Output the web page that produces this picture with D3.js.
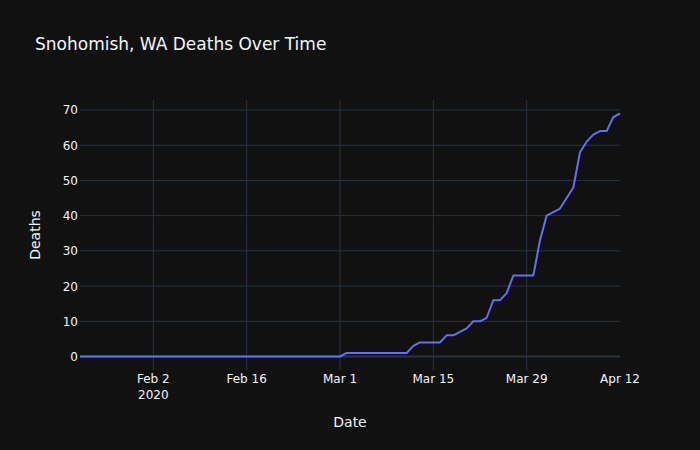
<!DOCTYPE html>
<html>
<head>
<meta charset="utf-8">
<script src="https://cdn.jsdelivr.net/npm/d3@7"></script>
<style>
  body { margin: 0; background: #111111; }
  text { font-family: Verdana, "DejaVu Sans", sans-serif; fill: #f2f5fa; }
</style>
</head>
<body>
<script>
// daily cumulative deaths, Jan 22 .. Apr 12 2020
var startDate = "2020-01-22";
var deaths = [
  // Jan 22 - Jan 31
  0, 0, 0, 0, 0, 0, 0, 0, 0, 0,
  // Feb 1 - Feb 29
  0, 0, 0, 0, 0, 0, 0, 0, 0, 0,
  0, 0, 0, 0, 0, 0, 0, 0, 0, 0,
  0, 0, 0, 0, 0, 0, 0, 0, 0,
  // Mar 1 - Mar 31
  0, 1, 1, 1, 1, 1, 1, 1, 1, 1,
  1, 3, 4, 4, 4, 4, 6, 6, 7, 8,
  10, 10, 11, 16, 16, 18, 23, 23, 23, 23,
  33,
  // Apr 1 - Apr 12
  40, 41, 42, 45, 48, 58, 61, 63, 64, 64, 68, 69
];
var tickDates = ["2020-02-02", "2020-02-16", "2020-03-01", "2020-03-15", "2020-03-29", "2020-04-12"];
var tickLabels = [["Feb 2", "2020"], ["Feb 16"], ["Mar 1"], ["Mar 15"], ["Mar 29"], ["Apr 12"]];
var yTicks = [0, 10, 20, 30, 40, 50, 60, 70];

var parse = d3.utcParse("%Y-%m-%d");
var data = deaths.map(function(v, i){
    return { date: d3.utcDay.offset(parse(startDate), i), value: v };
});

var width = 700, height = 450;
var margin = { top: 100, right: 80, bottom: 80, left: 80 };

var svg = d3.select("body").append("svg")
    .attr("width", width)
    .attr("height", height)
    .style("background", "#111111");

var x = d3.scaleUtc()
    .domain(d3.extent(data, function(d){ return d.date; }))
    .range([margin.left, width - margin.right]);

var maxV = d3.max(deaths), minV = d3.min(deaths);
var pad = (maxV - minV) * 0.05 / 0.9;
var y = d3.scaleLinear()
    .domain([minV - pad, maxV + pad])
    .range([height - margin.bottom, margin.top]);

// grid (no line on the plot edges)
var grid = svg.append("g").attr("stroke", "#283442").attr("stroke-width", 1);

grid.selectAll(".vgrid")
    .data(tickDates.filter(function(d){
        var px = x(parse(d));
        return px > margin.left + 1 && px < width - margin.right - 1;
    }))
    .enter().append("line")
    .attr("x1", function(d){ return x(parse(d)); })
    .attr("x2", function(d){ return x(parse(d)); })
    .attr("y1", margin.top)
    .attr("y2", height - margin.bottom);

grid.selectAll(".hgrid")
    .data(yTicks.filter(function(d){ return d !== 0; }))
    .enter().append("line")
    .attr("x1", margin.left)
    .attr("x2", width - margin.right)
    .attr("y1", function(d){ return y(d); })
    .attr("y2", function(d){ return y(d); });

// zero line
svg.append("line")
    .attr("x1", margin.left)
    .attr("x2", width - margin.right)
    .attr("y1", y(0))
    .attr("y2", y(0))
    .attr("stroke", "#283442")
    .attr("stroke-width", 2);

// the line
var line = d3.line()
    .x(function(d){ return x(d.date); })
    .y(function(d){ return y(d.value); });

svg.append("path")
    .datum(data)
    .attr("fill", "none")
    .attr("stroke", "#636efa")
    .attr("stroke-width", 2)
    .attr("stroke-linejoin", "round")
    .attr("d", line);

// x tick labels
var xl = svg.selectAll(".xlab")
    .data(tickDates)
    .enter().append("text")
    .attr("text-anchor", "middle")
    .attr("font-size", 12)
    .attr("x", function(d){ return x(parse(d)); })
    .attr("y", 383);

xl.each(function(d, i){
    var t = d3.select(this);
    tickLabels[i].forEach(function(s, j){
        t.append("tspan")
            .attr("x", x(parse(d)))
            .attr("dy", j === 0 ? 0 : 16)
            .text(s);
    });
});

// y tick labels
svg.selectAll(".ylab")
    .data(yTicks)
    .enter().append("text")
    .attr("text-anchor", "end")
    .attr("font-size", 12)
    .attr("x", 78)
    .attr("y", function(d){ return y(d) + 4.5; })
    .text(function(d){ return d; });

// titles
svg.append("text")
    .attr("x", 35)
    .attr("y", 50)
    .attr("font-size", 17)
    .text("Snohomish, WA Deaths Over Time");

svg.append("text")
    .attr("x", (margin.left + width - margin.right) / 2)
    .attr("y", 427)
    .attr("text-anchor", "middle")
    .attr("font-size", 14)
    .text("Date");

svg.append("text")
    .attr("transform", "translate(40," + ((margin.top + height - margin.bottom) / 2) + ") rotate(-90)")
    .attr("text-anchor", "middle")
    .attr("font-size", 14)
    .text("Deaths");
</script>
</body>
</html>
